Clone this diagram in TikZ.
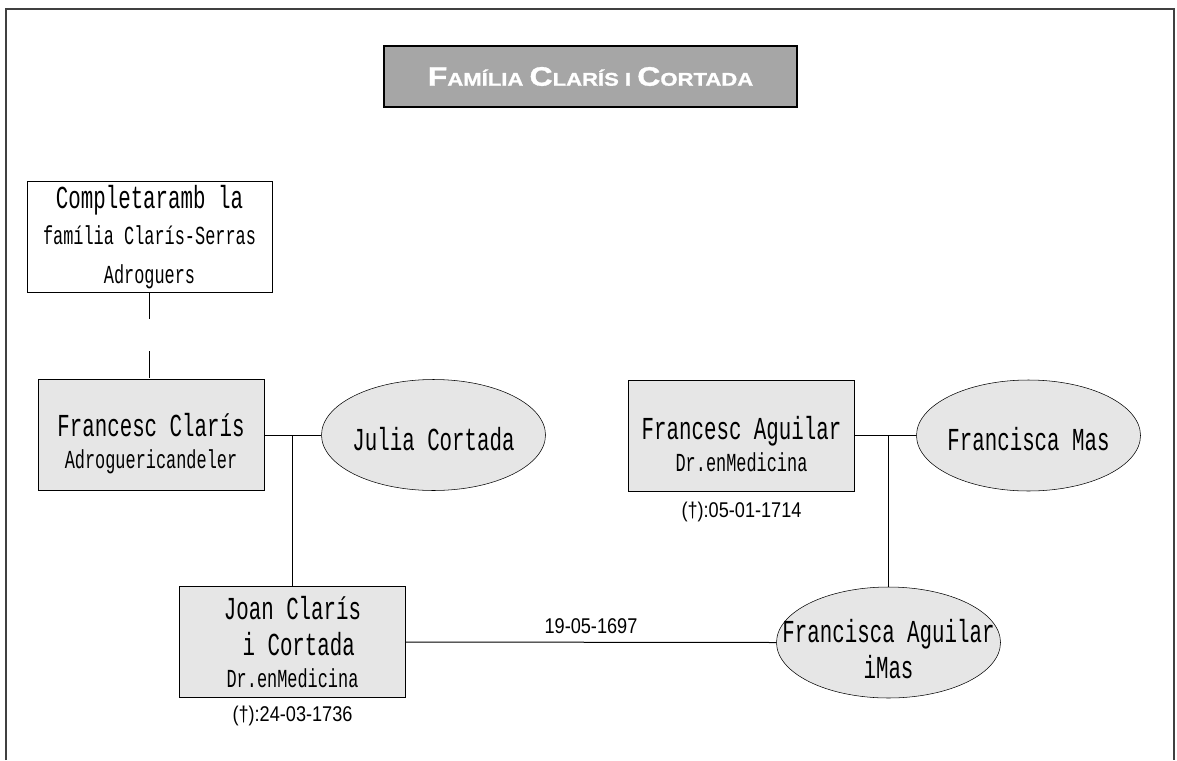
\documentclass[tikz,border=0pt]{standalone}
\usepackage{fontspec}
\usetikzlibrary{positioning,shapes.geometric}
\setmainfont{Liberation Sans}
\newfontfamily\namefont[FakeStretch=0.65]{Liberation Mono}
\newfontfamily\titlefont[FakeStretch=1.2,FakeBold=1.2]{Liberation Sans Bold}
\newfontfamily\datefont[FakeStretch=0.85]{Liberation Sans}
\definecolor{boxgray}{HTML}{E6E6E6}
\definecolor{titlegray}{HTML}{A6A6A6}
\newcommand{\subln}[1]{{\fontsize{19.5}{23}\selectfont #1}}
\newcommand{\tcap}[1]{{\fontsize{20}{24}\selectfont #1}}

\begin{document}
\begin{tikzpicture}[
    x=0.75pt,y=-0.75pt,
    font=\namefont\fontsize{24}{27}\selectfont,
    titlebox/.style={draw=black,line width=1.5pt,fill=titlegray,text=white,
      minimum width=309.75pt,minimum height=45.75pt,
      font=\titlefont\fontsize{13.8}{16}\selectfont},
    note/.style={draw,fill=white,minimum width=183.75pt,minimum height=83.25pt,
      inner sep=0pt,align=center},
    person/.style={draw,fill=boxgray,minimum width=169.5pt,minimum height=83.25pt,
      inner sep=0pt,align=center},
    spouse/.style={ellipse,draw,fill=boxgray,minimum width=168pt,minimum height=83.25pt,
      inner sep=0pt},
    date/.style={inner sep=0pt,font=\datefont\fontsize{16}{18}\selectfont},
    link/.style={line width=0.75pt}
  ]
    \useasboundingbox (0,0) rectangle (1177,760);
    \draw[line width=1.5pt,black!75] (6,760) -- (6,9) -- (1174,9) -- (1174,760);

    % Title
    \node[titlebox] (title) at (590.5,76.5)
      {\tcap{F}AMÍLIA \tcap{C}LARÍS I \tcap{C}ORTADA};

    % Left: Claris branch
    \node[note] (adq) at (149.5,237)
      {Completaramb la\\ \subln{família Clarís-Serras}\\[2pt] \subln{Adroguers}};
    \node[person] (fclaris) at (151,435)
      {\rule{0pt}{30pt}Francesc Clarís\\[-3pt] \subln{Adroguericandeler}};
    \node[spouse,label={[inner sep=0pt,yshift=-3pt]center:Julia Cortada}] (julia) at (433.5,435) {};
    \node[person] (joan) at (292.5,642)
      {Joan Clarís\\ \ i Cortada\\[-3pt] \subln{Dr.enMedicina}};
    \node[date,below=6pt of joan] (djoan) {(†):24-03-1736};

    % Right: Aguilar branch
    \node[person] (faguilar) at (741.5,435.5)
      {\rule{0pt}{30pt}Francesc Aguilar\\[-3pt] \subln{Dr.enMedicina}};
    \node[date,below=8pt of faguilar] (dfaguilar) {(†):05-01-1714};
    \node[spouse,label={[inner sep=0pt,yshift=-3pt]center:Francisca Mas}] (fmas) at (1028.5,435.5) {};
    \node[spouse,label={[inner sep=0pt,align=center,yshift=-5pt]center:Francisca Aguilar\\iMas}]
      (fam) at (888.5,642.5) {};

    % Connectors
    \draw[link,dash pattern=on 20pt off 24pt] (adq.south) -- (adq.south |- fclaris.north);
    \draw[link] (fclaris.east) -- (julia.west);
    \draw[link] (joan.north) -- (joan.north |- fclaris.east);
    \draw[link] (faguilar.east) -- (fmas.west);
    \draw[link] (fam.north) -- (fam.north |- faguilar.east);
    \draw[link] (joan.east) -- node[date,above=6pt] {19-05-1697} (fam.west);
  \end{tikzpicture}
\end{document}
